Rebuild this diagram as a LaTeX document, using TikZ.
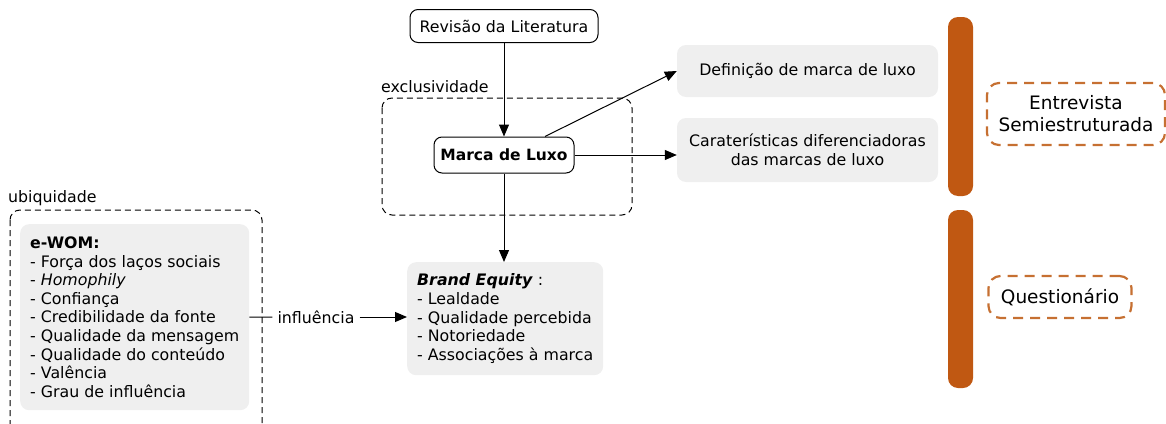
\documentclass[tikz,border=0pt]{standalone}
\usepackage{fontspec}
\setmainfont{DejaVu Sans}
\usetikzlibrary{arrows.meta,calc}
\definecolor{orng}{RGB}{192,88,18}
\definecolor{orngd}{RGB}{198,112,50}
\definecolor{boxgray}{RGB}{239,239,239}
\begin{document}
\begin{tikzpicture}[x=1pt,y=-1pt,
 font=\fontsize{15.8}{18.6}\selectfont,
 arr/.style={-{Triangle[length=12pt,width=10pt]}, line width=1pt},
 wbox/.style={draw, rounded corners=8pt, line width=1pt, fill=white},
 gbox/.style={fill=boxgray, rounded corners=9pt},
 kdash/.style={draw, dash pattern=on 6pt off 4pt, line width=1pt, rounded corners=10pt},
 odash/.style={draw=orngd, dash pattern=on 10pt off 7pt, line width=2.2pt, rounded corners=12pt},
 obar/.style={fill=orng, rounded corners=10pt}]
\useasboundingbox (0,0) rectangle (1166,423);
\begin{scope}
\clip (0,0) rectangle (1166,423);
\draw[kdash] (10,210) rectangle (262,440);
\end{scope}
\draw[kdash] (382,98) rectangle (632,215);
\node[anchor=base west, inner sep=0pt] (exlab) at (381,92) {exclusividade};
\node[anchor=base west, inner sep=0pt] (ublab) at (8,202) {ubiquidade};

\node[wbox, minimum width=188, minimum height=33] (rev) at (504,26) {Revisão da Literatura};
\node[wbox, font=\fontsize{15.5}{18}\selectfont\bfseries, minimum width=140, minimum height=36] (marca) at (504,155) {Marca de Luxo};
\node[gbox, minimum width=261, minimum height=52] (def) at (807.5,71) {Definição de marca de luxo};
\node[gbox, minimum width=261, minimum height=64, align=center] (car) at (807.5,150) {Caraterísticas diferenciadoras\\das marcas de luxo};

\fill[obar] (948,17) rectangle (973,196);
\fill[obar] (948,210) rectangle (973,388);

\node[odash, minimum width=178, minimum height=62, align=center, font=\fontsize{18.5}{22}\selectfont] (ent) at (1076,114) {Entrevista\\Semiestruturada};
\node[odash, minimum width=143, minimum height=42, font=\fontsize{18.5}{22}\selectfont] (que) at (1060,297) {Questionário};

\node[gbox, anchor=north west, minimum height=186, inner xsep=10pt, align=left] (ewom) at (20,224)
 {\textbf{e-WOM:}\\- Força dos laços sociais\\- \textit{Homophily}\\- Confiança\\- Credibilidade da fonte\\- Qualidade da mensagem\\- Qualidade do conteúdo\\- Valência\\- Grau de influência};
\node[gbox, anchor=north west, minimum height=113, minimum width=196, inner xsep=9pt, align=left] (be) at (407,262)
 {\textbf{\textit{Brand Equity}} :\\- Lealdade\\- Qualidade percebida\\- Notoriedade\\- Associações à marca};

\node[inner sep=5pt] (inf) at (316,317) {influência};

\draw[line width=1pt] (ewom.east) -- (inf.west);
\draw[arr] (inf.east) -- (inf.east -| be.west);
\draw[arr] (rev) -- (marca);
\draw[arr] ([xshift=41pt]marca.north) -- (def.west);
\draw[arr] (marca.east) -- (marca.east -| car.west);
\draw[arr] (marca.south) -- (marca.south |- be.north);
\end{tikzpicture}
\end{document}
